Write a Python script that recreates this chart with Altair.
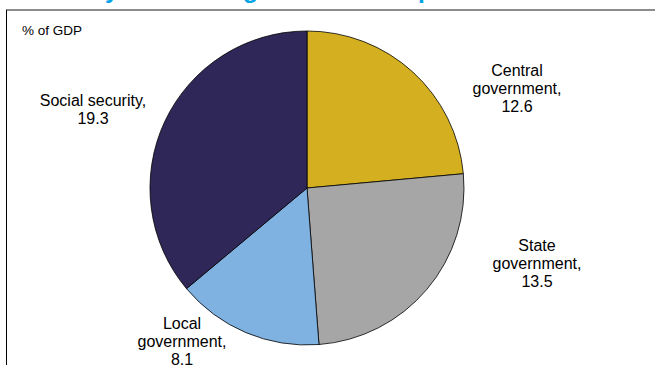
import altair as alt
import pandas as pd

# ---- data ----
categories = ["Central government", "State government", "Local government", "Social security"]
values = [12.6, 13.5, 8.1, 19.3]
label_names = ["Central\ngovernment,", "State\ngovernment,", "Local\ngovernment,", "Social security,"]
unit_label = "% of GDP"
title_text = "Germany: The total government expenditure"

# ---- styles ----
colors = ["#D4B021", "#A6A6A6", "#7FB2E0", "#2E2757"]
FONT = "Liberation Sans"
CX, CY, R = 307, 188, 157
# position of the first line of each label
label_xy = {
    "Central government": (517, 71),
    "State government": (537, 246),
    "Local government": (182, 324),
    "Social security": (93, 101),
}

df = pd.DataFrame({
    "category": categories,
    "value": values,
    "idx": list(range(len(categories))),
    "label": [f"{n}\n{v}" for n, v in zip(label_names, values)],
})
one = pd.DataFrame({"t": [title_text], "u": [unit_label]})

pie = alt.Chart(df).mark_arc(outerRadius=R, stroke="#000000", strokeWidth=0.8).encode(
    theta=alt.Theta("value:Q", stack=True),
    order=alt.Order("idx:Q"),
    color=alt.Color("category:N", scale=alt.Scale(domain=categories, range=colors), legend=None),
    x=alt.value(CX),
    y=alt.value(CY),
)

label_layers = []
for c in categories:
    px, py = label_xy[c]
    label_layers.append(
        alt.Chart(df).transform_filter(alt.datum.category == c).mark_text(
            font=FONT, fontSize=16, lineHeight=18, lineBreak="\n",
            align="center", baseline="middle", color="#000000",
        ).encode(text="label:N", x=alt.value(px), y=alt.value(py))
    )

unit = alt.Chart(one).mark_text(
    font=FONT, fontSize=13.5, align="left", baseline="alphabetic", color="#000000"
).encode(text="u:N", x=alt.value(22), y=alt.value(35))

title = alt.Chart(one).mark_text(
    font=FONT, fontSize=24.6, fontWeight="bold", align="left", baseline="alphabetic", color="#00A3E6"
).encode(text="t:N", x=alt.value(12), y=alt.value(-2))

top_line = alt.Chart(one).mark_rule(color="#8C8C8C", strokeWidth=2).encode(
    x=alt.value(6), x2=alt.value(655), y=alt.value(10)
)
left_line = alt.Chart(one).mark_rule(color="#000000", strokeWidth=1).encode(
    x=alt.value(6.5), y=alt.value(10), y2=alt.value(365)
)

chart = alt.layer(title, top_line, left_line, pie, unit, *label_layers).properties(
    width=655, height=365,
    autosize=alt.AutoSizeParams(type="none"),
    padding=0,
).configure_view(stroke=None)

chart.save("out.html", embed_options={"renderer": "svg", "actions": False})
